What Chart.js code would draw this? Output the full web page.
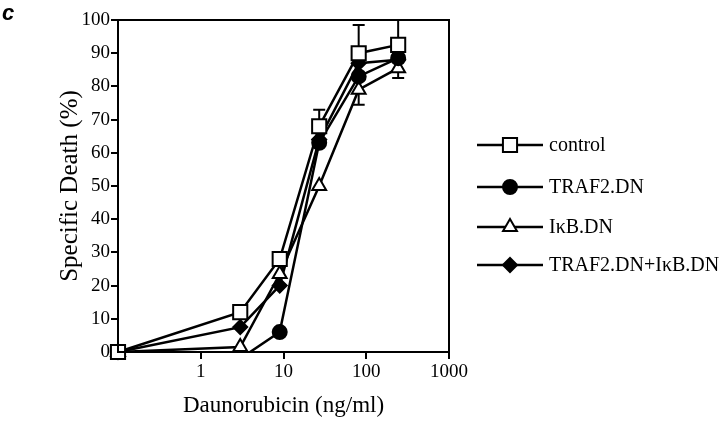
<!DOCTYPE html>
<html>
<head>
<meta charset="utf-8">
<script src="https://cdn.jsdelivr.net/npm/chart.js"></script>
<style>
  html, body { margin: 0; padding: 0; background: #fff; }
  #wrap { width: 720px; height: 427px; position: relative; }
</style>
</head>
<body>
<div id="wrap"><canvas id="ctx"></canvas></div>
<script>
// doses in ng/ml; the untreated point (0) sits at the left edge, 0.1
const doses = [0.1, 3, 9, 27, 81, 243];
const xTicks = [0.1, 1, 10, 100, 1000];

const seriesNames = ["control", "TRAF2.DN", "I\u03baB.DN", "TRAF2.DN+I\u03baB.DN"];
const control = [0, 12, 28, 68, 90, 92.5];
const traf2 = [0, -2, 6, 63, 83, 88.5];   // dips just below 0 at 3 ng/ml (clipped by the axis)
const ikb = [0, 1.5, 23.5, 50, 79, 85.5];
const combo = [0, 7.5, 20, 64, 87, 88];

// error bars: only the visible halves
const controlErrUp = [0, 0, 0, 5, 8.5, 7.5];
const ikbErrDown = [0, 0, 0, 0, 4.5, 3];

const serif = "'Liberation Serif', 'Times New Roman', serif";

function series(label, values, style, radius, fill, clip) {
  return {
    label: label,
    data: doses.map((d, i) => ({ x: d, y: values[i] })),
    borderColor: "#000",
    borderWidth: 2.5,
    pointStyle: style,
    pointRadius: radius,
    pointBackgroundColor: fill,
    pointBorderColor: "#000",
    pointBorderWidth: 2,
    clip: clip,
    tension: 0,
  };
}

const frame = {
  id: "frame",
  afterDraw(chart) {
    const { ctx, chartArea: a } = chart;
    ctx.save();
    ctx.strokeStyle = "#000";
    ctx.lineWidth = 2;
    ctx.strokeRect(a.left, a.top, a.right - a.left, a.bottom - a.top);
    // panel letter
    ctx.fillStyle = "#000";
    ctx.font = "italic bold 22px 'Liberation Sans', Arial, sans-serif";
    ctx.textBaseline = "alphabetic";
    ctx.fillText("c", 2, 20);
    ctx.restore();
  },
};

const errorBars = {
  id: "errorBars",
  beforeDatasetsDraw(chart) {
    const { ctx, scales: { x, y } } = chart;
    const bars = [
      { vals: control, err: controlErrUp, dir: 1 },
      { vals: ikb, err: ikbErrDown, dir: -1 },
    ];
    ctx.save();
    ctx.strokeStyle = "#000";
    ctx.lineWidth = 2;
    bars.forEach((b) => {
      b.err.forEach((e, i) => {
        if (!e) return;
        const px = x.getPixelForValue(doses[i]);
        const y0 = y.getPixelForValue(b.vals[i]);
        const y1 = y.getPixelForValue(Math.min(100, b.vals[i] + b.dir * e));
        ctx.beginPath();
        ctx.moveTo(px, y0);
        ctx.lineTo(px, y1);
        ctx.moveTo(px - 6, y1);
        ctx.lineTo(px + 6, y1);
        ctx.stroke();
      });
    });
    ctx.restore();
  },
};

const sideLegend = {
  id: "sideLegend",
  afterDraw(chart) {
    const { ctx } = chart;
    const rows = [145, 187, 227, 265];
    ctx.save();
    chart.data.datasets.forEach((ds, i) => {
      const yy = rows[i];
      ctx.strokeStyle = "#000";
      ctx.lineWidth = 2.5;
      ctx.beginPath();
      ctx.moveTo(477, yy);
      ctx.lineTo(543, yy);
      ctx.stroke();
      ctx.fillStyle = ds.pointBackgroundColor;
      ctx.lineWidth = ds.pointBorderWidth;
      Chart.helpers.drawPoint(ctx, {
        pointStyle: ds.pointStyle,
        radius: ds.pointRadius,
        rotation: 0,
        borderWidth: ds.pointBorderWidth,
      }, 510, yy);
      ctx.fillStyle = "#000";
      ctx.font = "20px " + serif;
      ctx.textBaseline = "middle";
      ctx.textAlign = "left";
      ctx.fillText(ds.label, 549, yy + 1);
    });
    ctx.restore();
  },
};

const noClip = false;
const clipBelowAxis = { left: false, top: false, right: false, bottom: 0 };

new Chart(document.getElementById("ctx"), {
  type: "line",
  data: {
    datasets: [
      series(seriesNames[0], control, "rect", 10, "#fff", noClip),
      series(seriesNames[1], traf2, "circle", 7, "#000", clipBelowAxis),
      series(seriesNames[2], ikb, "triangle", 8, "#fff", noClip),
      series(seriesNames[3], combo, "rectRot", 7, "#000", noClip),
    ],
  },
  options: {
    responsive: true,
    maintainAspectRatio: false,
    animation: false,
    layout: { padding: { left: 52, top: 20, right: 271, bottom: 0 } },
    plugins: {
      legend: { display: false },
      tooltip: { enabled: false },
    },
    scales: {
      x: {
        type: "logarithmic",
        min: 0.1,
        max: 1000,
        afterBuildTicks: (scale) => {
          scale.ticks = xTicks.map((v) => ({ value: v }));
        },
        afterFit: (scale) => {
          scale.height = 75;
        },
        ticks: {
          color: "#000",
          font: { family: serif, size: 19 },
          padding: 2,
          maxRotation: 0,
          autoSkip: false,
          callback: (v) => (v >= 1 ? String(v) : ""),
        },
        grid: { display: true, drawOnChartArea: false, color: "#000", lineWidth: 2, tickLength: 7 },
        border: { display: true, color: "#000", width: 2 },
        title: {
          display: true,
          text: "Daunorubicin (ng/ml)",
          color: "#000",
          font: { family: serif, size: 23 },
          padding: { top: 4, bottom: 7 },
        },
      },
      y: {
        min: 0,
        max: 100,
        afterFit: (scale) => {
          scale.width = 66;
        },
        ticks: {
          stepSize: 10,
          color: "#000",
          font: { family: serif, size: 19 },
          padding: 1,
        },
        grid: { display: true, drawOnChartArea: false, color: "#000", lineWidth: 2, tickLength: 7 },
        border: { display: true, color: "#000", width: 2 },
        title: {
          display: true,
          text: "Specific Death (%)",
          color: "#000",
          font: { family: serif, size: 25 },
          padding: { top: 3, bottom: 0 },
        },
      },
    },
  },
  plugins: [frame, errorBars, sideLegend],
});
</script>
</body>
</html>
